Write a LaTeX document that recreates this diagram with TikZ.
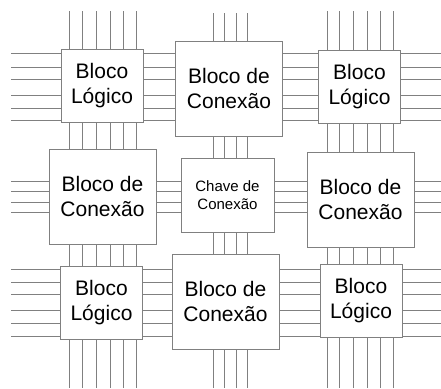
\documentclass[tikz,border=0pt]{standalone}
\usepackage{fontspec}
\setmainfont{Liberation Sans}
\definecolor{Fio}{HTML}{808080}

\begin{document}
\begin{tikzpicture}[x=1pt,y=-1pt,
  bloco/.style={draw=Fio,line width=1pt,fill=white,inner sep=0pt,align=center,text=black,font=\fontsize{21}{25}\selectfont},
  logico/.style={bloco,minimum width=82pt,minimum height=73pt},
  conexao/.style={bloco,minimum width=107pt,minimum height=95pt},
  chave/.style={bloco,minimum width=93pt,minimum height=74pt,font=\fontsize{15}{18.5}\selectfont},
  fio/.style={draw=Fio,line width=1pt}
]
  \path[use as bounding box] (0,0) rectangle (441,388);

  % pontas livres dos fios
  \coordinate (esq) at (11,0);
  \coordinate (dir) at (441,0);
  \coordinate (topo) at (0,11);
  \coordinate (topo2) at (0,13);
  \coordinate (base) at (0,388);

  % linha de cima
  \node[logico] (lg1) at (102,85.5) {Bloco\\Lógico};
  \node[conexao] (cb1) at (229,88.5) {Bloco de\\Conexão};
  \node[logico] (lg2) at (359.5,86.5) {Bloco\\Lógico};

  % linha do meio
  \node[conexao] (cb2) at (102.5,196.5) {Bloco de\\Conexão};
  \node[chave] (ch) at (227.5,195) {Chave de\\Conexão};
  \node[conexao] (cb3) at (360.5,199.5) {Bloco de\\Conexão};

  % linha de baixo
  \node[logico] (lg3) at (101.5,302.5) {Bloco\\Lógico};
  \node[conexao] (cb4) at (225.5,301.5) {Bloco de\\Conexão};
  \node[logico] (lg4) at (361,300.5) {Bloco\\Lógico};

  % fios horizontais
  \foreach \y in {53,67,79,95,108,120} {
    \draw[fio] (esq |- 0,\y) -- (lg1.west |- 0,\y);
    \draw[fio] (lg1.east |- 0,\y) -- (cb1.west |- 0,\y);
    \draw[fio] (cb1.east |- 0,\y) -- (lg2.west |- 0,\y);
    \draw[fio] (lg2.east |- 0,\y) -- (dir |- 0,\y);
  }
  \foreach \y in {181,191,202,212} {
    \draw[fio] (esq |- 0,\y) -- (cb2.west |- 0,\y);
    \draw[fio] (cb2.east |- 0,\y) -- (ch.west |- 0,\y);
    \draw[fio] (ch.east |- 0,\y) -- (cb3.west |- 0,\y);
    \draw[fio] (cb3.east |- 0,\y) -- (dir |- 0,\y);
  }
  \foreach \y in {269,282,294,310,323,336} {
    \draw[fio] (esq |- 0,\y) -- (lg3.west |- 0,\y);
    \draw[fio] (lg3.east |- 0,\y) -- (cb4.west |- 0,\y);
    \draw[fio] (cb4.east |- 0,\y) -- (lg4.west |- 0,\y);
    \draw[fio] (lg4.east |- 0,\y) -- (dir |- 0,\y);
  }

  % fios verticais
  \foreach \x in {69,82,96,110,123,136} {
    \draw[fio] (\x,0 |- topo) -- (\x,0 |- lg1.north);
    \draw[fio] (\x,0 |- lg1.south) -- (\x,0 |- cb2.north);
    \draw[fio] (\x,0 |- cb2.south) -- (\x,0 |- lg3.north);
    \draw[fio] (\x,0 |- lg3.south) -- (\x,0 |- base);
  }
  \foreach \x in {213,224,236,247} {
    \draw[fio] (\x,0 |- topo2) -- (\x,0 |- cb1.north);
    \draw[fio] (\x,0 |- cb1.south) -- (\x,0 |- ch.north);
    \draw[fio] (\x,0 |- ch.south) -- (\x,0 |- cb4.north);
    \draw[fio] (\x,0 |- cb4.south) -- (\x,0 |- base);
  }
  \foreach \x in {327,339,353,367,380,393} {
    \draw[fio] (\x,0 |- topo) -- (\x,0 |- lg2.north);
    \draw[fio] (\x,0 |- lg2.south) -- (\x,0 |- cb3.north);
    \draw[fio] (\x,0 |- cb3.south) -- (\x,0 |- lg4.north);
    \draw[fio] (\x,0 |- lg4.south) -- (\x,0 |- base);
  }
\end{tikzpicture}
\end{document}
